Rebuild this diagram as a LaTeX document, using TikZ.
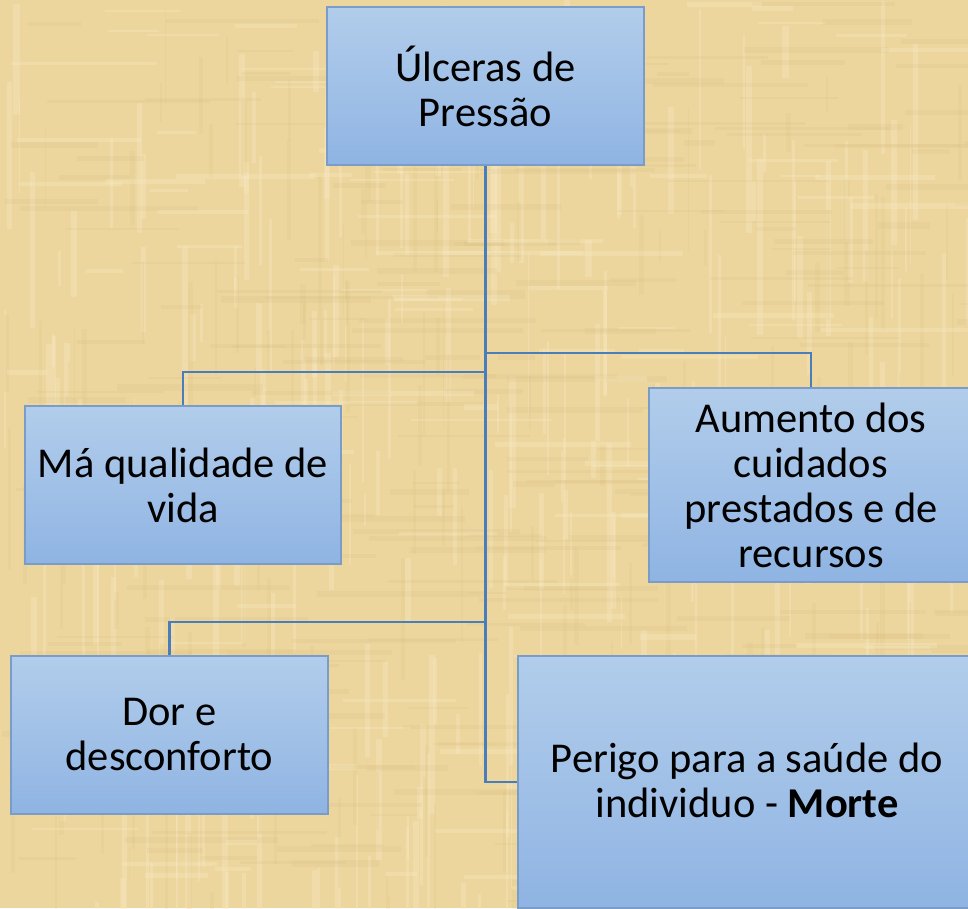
\documentclass[tikz,border=0pt]{standalone}
\usepackage{fontspec}
\setmainfont{Carlito}
\definecolor{paper}{RGB}{236,214,158}
\definecolor{paperlight}{RGB}{248,234,196}
\definecolor{paperdark}{RGB}{214,186,120}
\definecolor{boxtop}{RGB}{178,205,235}
\definecolor{boxbot}{RGB}{143,180,227}
\definecolor{boxline}{RGB}{122,156,200}
\definecolor{connline}{RGB}{74,126,187}
\begin{document}
\begin{tikzpicture}[x=1pt,y=-1pt,
  box/.style={draw=boxline, line width=1.2pt, top color=boxtop, bottom color=boxbot,
    align=center, inner sep=0pt, text=black, font=\fontsize{42.5}{45}\selectfont},
  conn/.style={draw=connline, line width=2.8pt}]
\useasboundingbox (0,0) rectangle (968,908);
\begin{scope}
\clip (0,0) rectangle (968,908);
\fill[paper] (0,0) rectangle (968,908);
\pgfmathsetseed{7}
\foreach \i in {1,...,260}{
  \pgfmathsetmacro{\xx}{rnd*968}
  \pgfmathsetmacro{\ww}{1.5+rnd*5}
  \pgfmathsetmacro{\yy}{rnd*908}
  \pgfmathsetmacro{\hh}{30+rnd*150}
  \fill[paperlight,opacity=0.35] (\xx,\yy) rectangle ++(\ww,\hh);
}
\foreach \i in {1,...,260}{
  \pgfmathsetmacro{\xx}{rnd*968}
  \pgfmathsetmacro{\ww}{30+rnd*150}
  \pgfmathsetmacro{\yy}{rnd*908}
  \pgfmathsetmacro{\hh}{1.5+rnd*5}
  \fill[paperdark,opacity=0.15] (\xx,\yy) rectangle ++(\ww,\hh);
}
\foreach \i in {1,...,160}{
  \pgfmathsetmacro{\xx}{rnd*968}
  \pgfmathsetmacro{\ww}{1.5+rnd*4}
  \pgfmathsetmacro{\yy}{rnd*908}
  \pgfmathsetmacro{\hh}{30+rnd*120}
  \fill[paperdark,opacity=0.14] (\xx,\yy) rectangle ++(\ww,\hh);
}
\foreach \i in {1,...,120}{
  \pgfmathsetmacro{\xx}{rnd*968}
  \pgfmathsetmacro{\ww}{30+rnd*120}
  \pgfmathsetmacro{\yy}{rnd*908}
  \pgfmathsetmacro{\hh}{1.5+rnd*4}
  \fill[paperlight,opacity=0.3] (\xx,\yy) rectangle ++(\ww,\hh);
}

\node[box, minimum width=317pt, minimum height=158pt] (top) at (485.5,86) {Úlceras de\\Pressão};
\node[box, minimum width=316pt, minimum height=158pt] (ma) at (183,485) {Má qualidade de\\vida};
\node[box, minimum width=324pt, minimum height=194pt] (aum) at (811,485) {Aumento dos\\cuidados\\prestados e de\\recursos};
\node[box, minimum width=317pt, minimum height=158pt] (dor) at (169.5,735) {Dor e\\desconforto};
\node[box, minimum width=458pt, minimum height=252pt] (per) at (747,782) {};
\node[align=center, inner sep=0pt, font=\fontsize{42.5}{45}\selectfont] (pertxt) at (747,780) {Perigo para a saúde do\\individuo - \textbf{Morte}};

\coordinate (jr) at (485,353);
\coordinate (jl) at (485,372);
\coordinate (jd) at (485,622);
\draw[conn] (top.south) |- (per.west);
\draw[conn] (jr) -| (aum.north);
\draw[conn] (jl) -| (ma.north);
\draw[conn] (jd) -| (dor.north);
\end{scope}
\end{tikzpicture}
\end{document}
